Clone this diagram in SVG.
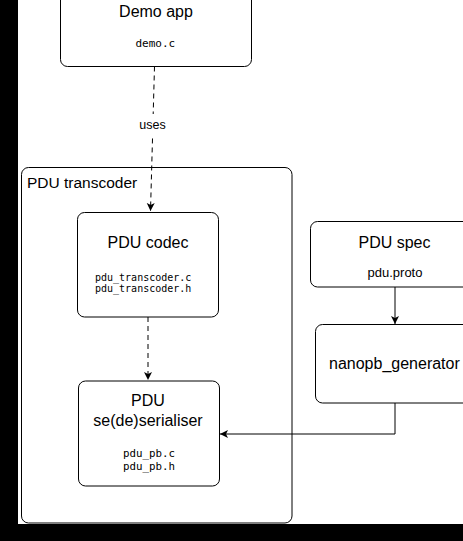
<svg xmlns="http://www.w3.org/2000/svg" width="463" height="541" viewBox="0 0 463 541">
<style>
.box{fill:#fff;stroke:#000;stroke-width:1}
.t{font-family:"Liberation Sans",Arial,sans-serif;font-size:16px;fill:#000}
.s{font-family:"Liberation Sans",Arial,sans-serif;font-size:13px;fill:#000}
.m{font-family:"DejaVu Sans Mono","Liberation Mono",monospace;fill:#000}
.c{fill:none;stroke:#000;stroke-width:1}
.d{stroke-dasharray:5 4}
</style>
<defs>
<marker id="arr" markerUnits="userSpaceOnUse" markerWidth="10" markerHeight="10" refX="8" refY="4" orient="auto">
<path d="M0,0 L8,4 L0,8 L2,4 Z" fill="#000"/>
</marker>
</defs>
<rect x="0" y="0" width="463" height="541" fill="#000"/>
<rect x="18" y="0" width="445" height="524" fill="#fff"/>

<g id="pdu-transcoder">
<rect class="box" x="21.5" y="167.5" width="270.5" height="355.5" rx="7"/>
<text class="t" x="27" y="188" style="font-size:15.5px">PDU transcoder</text>
</g>

<g id="demo-app">
<rect class="box" x="60.5" y="-40" width="191" height="106.5" rx="7"/>
<text class="t" x="156" y="17" text-anchor="middle">Demo app</text>
<text class="m" x="135.5" y="47" style="font-size:11px">demo.c</text>
</g>

<g id="pdu-codec">
<rect class="box" x="77.5" y="212.5" width="141" height="104.5" rx="7"/>
<text class="t" x="148" y="247.5" text-anchor="middle">PDU codec</text>
<text class="m" x="95" y="281" style="font-size:10px">pdu_transcoder.c</text>
<text class="m" x="95" y="292" style="font-size:10px">pdu_transcoder.h</text>
</g>

<g id="pdu-serialiser">
<rect class="box" x="78.5" y="381" width="141" height="105" rx="7"/>
<text class="t" x="148" y="406" text-anchor="middle">PDU</text>
<text class="t" x="148" y="426" text-anchor="middle">se(de)serialiser</text>
<text class="m" x="123" y="457" style="font-size:10.8px">pdu_pb.c</text>
<text class="m" x="123" y="470" style="font-size:10.8px">pdu_pb.h</text>
</g>

<g id="pdu-spec">
<rect class="box" x="310.5" y="221.5" width="180" height="65.5" rx="7"/>
<text class="t" x="394.5" y="247.5" text-anchor="middle">PDU spec</text>
<text class="s" x="395" y="277" text-anchor="middle">pdu.proto</text>
</g>

<g id="nanopb-generator">
<rect class="box" x="315.5" y="324.5" width="175" height="78.5" rx="7"/>
<text class="t" x="329" y="369">nanopb_generator</text>
</g>

<g id="connectors">
<path class="c d" d="M154.5,66.5 L150.5,211" marker-end="url(#arr)"/>
<rect x="136" y="114" width="34" height="22" fill="#fff"/>
<text class="s" x="152.5" y="128.5" text-anchor="middle" style="font-size:12.5px">uses</text>
<path class="c d" d="M148,317 L148,380" marker-end="url(#arr)"/>
<path class="c" d="M395,287 L395,324" marker-end="url(#arr)"/>
<path class="c" d="M395,403 L395,434 L220,434" marker-end="url(#arr)"/>
</g>
</svg>
